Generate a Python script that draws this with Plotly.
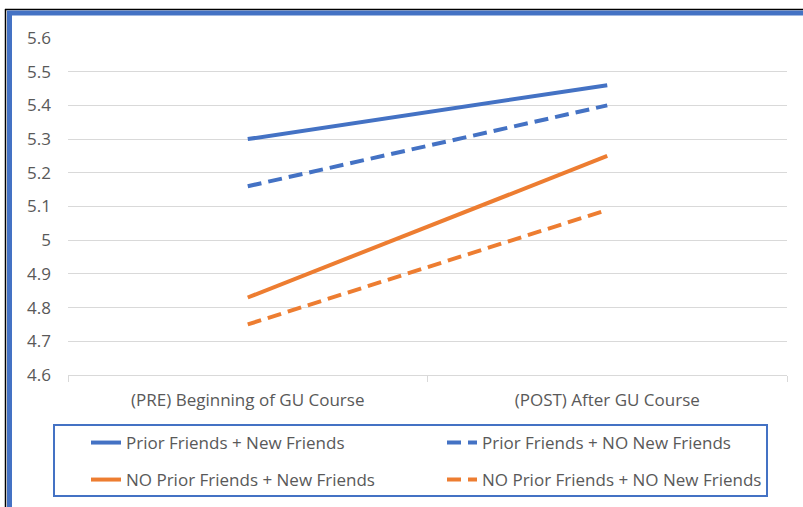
import plotly.graph_objects as go

categories = ["(PRE) Beginning of GU Course", "(POST) After GU Course"]
prior_new = [5.30, 5.46]
prior_no_new = [5.16, 5.40]
noprior_new = [4.83, 5.25]
noprior_no_new = [4.75, 5.09]
y_ticks = [4.6, 4.7, 4.8, 4.9, 5.0, 5.1, 5.2, 5.3, 5.4, 5.5, 5.6]
y_tick_labels = ["4.6", "4.7", "4.8", "4.9", "5", "5.1", "5.2", "5.3", "5.4", "5.5", "5.6"]

BLUE = "#4472C4"
ORANGE = "#ED7D31"
TXT = "#595959"
FONT = "Open Sans"
FS = 17

W, H = 803, 507
L, R, T, B = 68, 16, 38, 132
PW, PH = W - L - R, H - T - B


def px(x):
    return (x - L) / PW


def py(y):
    return (H - B - y) / PH


DASH = "14px,7px"
series = [
    ("Prior Friends + New Friends", prior_new, BLUE, "solid", "legend", 86, 443),
    ("Prior Friends + NO New Friends", prior_no_new, BLUE, DASH, "legend2", 442, 443),
    ("NO Prior Friends + New Friends", noprior_new, ORANGE, "solid", "legend3", 86, 480),
    ("NO Prior Friends + NO New Friends", noprior_no_new, ORANGE, DASH, "legend4", 442, 480),
]

fig = go.Figure()
legends = {}
for name, vals, color, dash, lg, lx, ly in series:
    fig.add_trace(go.Scatter(
        x=categories, y=vals, name=name, mode="lines",
        line=dict(color=color, width=4, dash=dash),
        legend=lg,
    ))
    legends[lg] = dict(
        x=px(lx), y=py(ly), xanchor="left", yanchor="middle",
        orientation="h",
        font=dict(family=FONT, size=FS, color=TXT),
        bgcolor="rgba(0,0,0,0)", borderwidth=0,
        itemclick=False, itemdoubleclick=False,
    )

fig.update_layout(
    width=W, height=H,
    margin=dict(l=L, r=R, t=T, b=B, autoexpand=False),
    paper_bgcolor="white", plot_bgcolor="white",
    font=dict(family=FONT, size=FS, color=TXT),
    showlegend=True,
    xaxis=dict(
        type="category", range=[-0.5, 1.5],
        showgrid=False, showline=True, linecolor="#D9D9D9", linewidth=1,
        ticks="outside", tickson="boundaries", ticklen=6, tickcolor="#D9D9D9",
        tickfont=dict(family=FONT, size=FS, color=TXT),
        ticklabelstandoff=10,
        fixedrange=True,
    ),
    yaxis=dict(
        range=[4.6, 5.6], tickvals=y_ticks, ticktext=y_tick_labels,
        showgrid=True, gridcolor="#D9D9D9", gridwidth=1,
        zeroline=False, showline=False, ticks="",
        tickfont=dict(family=FONT, size=FS, color=TXT),
        ticklabelstandoff=16,
        fixedrange=True,
    ),
    shapes=[
        dict(type="rect", xref="paper", yref="paper",
             x0=px(54), x1=px(767), y0=py(425), y1=py(496),
             line=dict(color=BLUE, width=2), fillcolor="rgba(0,0,0,0)", layer="below"),
        dict(type="line", xref="paper", yref="paper",
             x0=px(5.5), x1=px(5.5), y0=py(9), y1=py(520),
             line=dict(color="#000000", width=1.5)),
        dict(type="line", xref="paper", yref="paper",
             x0=px(5), x1=px(810), y0=py(9.5), y1=py(9.5),
             line=dict(color="#000000", width=1.5)),
        dict(type="line", xref="paper", yref="paper",
             x0=px(9.5), x1=px(9.5), y0=py(11), y1=py(520),
             line=dict(color=BLUE, width=5)),
        dict(type="line", xref="paper", yref="paper",
             x0=px(7), x1=px(810), y0=py(13), y1=py(13),
             line=dict(color=BLUE, width=5)),
    ],
)
fig.update_layout(**legends)

fig.write_html("out.html", config={"displayModeBar": False},
               post_script="document.body.style.margin='0';")
